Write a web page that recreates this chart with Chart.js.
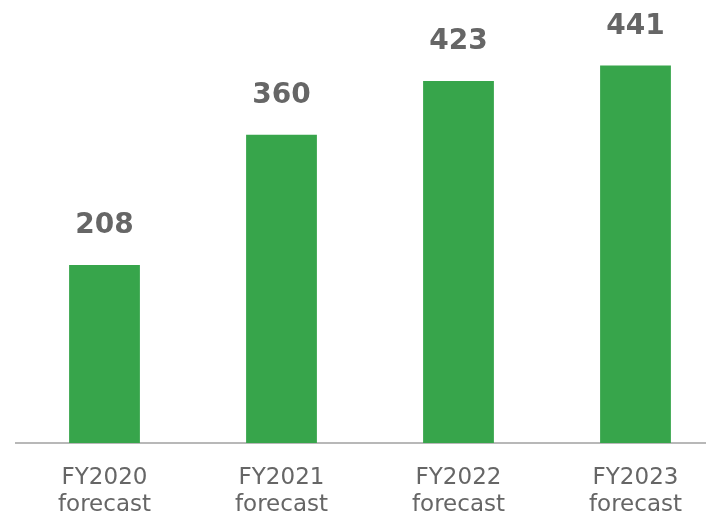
<!DOCTYPE html>
<html>
<head>
<meta charset="utf-8">
<script src="https://cdn.jsdelivr.net/npm/chart.js@4/dist/chart.umd.min.js"></script>
<style>
  html, body { margin: 0; padding: 0; background: #fff; overflow: hidden; }
  #wrap { position: absolute; left: 0; top: 0; width: 726px; height: 514px; }
</style>
</head>
<body>
<div id="wrap"><canvas id="chart" width="726" height="514"></canvas></div>
<script>
const categories = [['FY2020', 'forecast'], ['FY2021', 'forecast'], ['FY2022', 'forecast'], ['FY2023', 'forecast']]
const values = [208, 360, 423, 441]

const barColor = '#37a54b'
const textColor = '#666666'

// value labels above each bar
const valueLabels = {
  id: 'valueLabels',
  afterDatasetsDraw(chart) {
    const ctx = chart.ctx
    const meta = chart.getDatasetMeta(0)
    ctx.save()
    ctx.font = 'bold 28px "DejaVu Sans"'
    ctx.fillStyle = textColor
    ctx.textAlign = 'center'
    ctx.textBaseline = 'alphabetic'
    meta.data.forEach((bar, i) => {
      ctx.fillText(String(values[i]), bar.x, bar.y - 32)
    })
    ctx.restore()
  }
}

const ctx = document.getElementById('chart').getContext('2d')
new Chart(ctx, {
  type: 'bar',
  data: {
    labels: categories,
    datasets: [{
      data: values,
      backgroundColor: barColor,
      borderWidth: 0,
      barPercentage: 0.4,
      categoryPercentage: 1
    }]
  },
  options: {
    responsive: false,
    animation: false,
    layout: { padding: { left: 16, right: 2, top: 15, bottom: 0 } },
    plugins: {
      legend: { display: false },
      tooltip: { enabled: false },
      title: { display: false }
    },
    scales: {
      x: {
        grid: { display: false, drawTicks: false },
        border: { display: true, color: '#b8b8b8', width: 2 },
        ticks: {
          color: textColor,
          font: { family: '"DejaVu Sans"', size: 23, lineHeight: 1.17 },
          padding: 22,
          maxRotation: 0,
          autoSkip: false
        },
        afterFit(scale) { scale.height = 71 }
      },
      y: {
        display: false,
        min: 0,
        max: 500
      }
    }
  },
  plugins: [valueLabels]
})
</script>
</body>
</html>
